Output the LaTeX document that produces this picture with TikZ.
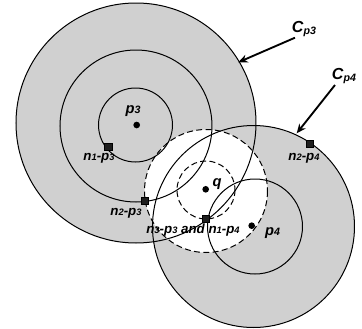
\documentclass[tikz,border=0pt]{standalone}
\usepackage{fontspec}
\setmainfont{Liberation Sans}
\usetikzlibrary{arrows.meta}

\newcommand{\sublbl}[2]{#1{\fontsize{7}{7}\selectfont #2}}
\newcommand{\bigsub}[2]{#1{\fontsize{8}{8}\selectfont #2}}

\tikzset{every picture/.style={line width=0.75pt}}
\tikzset{
  zone/.style={fill={rgb, 255:red, 208; green, 208; blue, 208 }},
  probe/.style={dash pattern=on 4.5pt off 2.5pt},
  site/.style={circle, fill=black, inner sep=0pt, minimum size=5pt},
  nbr/.style={rectangle, fill={rgb, 255:red, 30; green, 30; blue, 30 }, draw=black, line width=0.4pt, inner sep=0pt, minimum size=5.5pt},
  tag/.style={inner sep=0.75pt, font=\fontsize{10}{10}\selectfont\bfseries\itshape},
  bigtag/.style={tag, font=\fontsize{11}{11}\selectfont\bfseries\itshape},
  ptr/.style={line width=1.4pt, -{Stealth[length=7pt,width=6pt]}}
}

\begin{document}
\begin{tikzpicture}[x=0.75pt,y=0.75pt,yscale=-1,xscale=1]
\useasboundingbox (0,0) rectangle (362,329);

%Shape: Circle (shaded ranges)
\fill [zone] (136,123) circle (120);
\fill [zone] (253.5,226.5) circle (101);
%Shape: Circle (query range)
\fill [white] (206,191) circle (61.5);

%Shape: Circle (outlines around p3)
\draw (136,123) circle (120);
\draw (136,126) circle (76);
\draw (135.5,125) circle (37);
%Shape: Circle (outlines around p4)
\draw (253.5,226.5) circle (101);
\draw (255,226.5) circle (47.5);
%Shape: Circle (dashed around q)
\draw [probe] (206,191) circle (61.5);
\draw [probe] (206,190) circle (29);

% Sites
\node [site] (p3) at (136.7,125) {};
\node [site] (p4) at (251.7,225.7) {};
\node [site] (q) at (205.7,189.3) {};

% Neighbours
\node [nbr] (n1p3) at (108.3,146.7) {};
\node [nbr] (n2p3) at (145,201) {};
\node [nbr] (n3p3) at (205.7,219) {};
\node [nbr] (n2p4) at (310,144) {};

% Text Node
\node [bigtag] (lp3) at (133,111.5) {\bigsub{p}{3}};
\node [bigtag] (lp4) at (272.5,233) {\bigsub{p}{4}};
\node [bigtag] (lq) at (217,184) {q};
\node [tag] (ln1p3) at (99,158) {\sublbl{n}{1}-\sublbl{p}{3}};
\node [tag] (ln2p3) at (126,213) {\sublbl{n}{2}-\sublbl{p}{3}};
\node [tag] (ln3p3) at (193,230.5) {\sublbl{n}{3}-\sublbl{p}{3} and \sublbl{n}{1}-\sublbl{p}{4}};
\node [tag] (ln2p4) at (304,158) {\sublbl{n}{2}-\sublbl{p}{4}};
\node [tag, font=\fontsize{12}{12}\selectfont\bfseries\itshape] (lcp3) at (304,29) {C\raisebox{-1.5pt}{\fontsize{8}{8}\selectfont p3}};
\node [tag, font=\fontsize{12}{12}\selectfont\bfseries\itshape] (lcp4) at (344,76) {C\raisebox{-1.5pt}{\fontsize{8}{8}\selectfont p4}};

% Pointers to the range circles
\coordinate (scp3) at (295,37.7);
\coordinate (ecp3) at (238.3,62.3);
\coordinate (scp4) at (335,85);
\coordinate (ecp4) at (296.7,133.3);
\draw [ptr] (scp3) -- (ecp3);
\draw [ptr] (scp4) -- (ecp4);

\end{tikzpicture}
\end{document}
